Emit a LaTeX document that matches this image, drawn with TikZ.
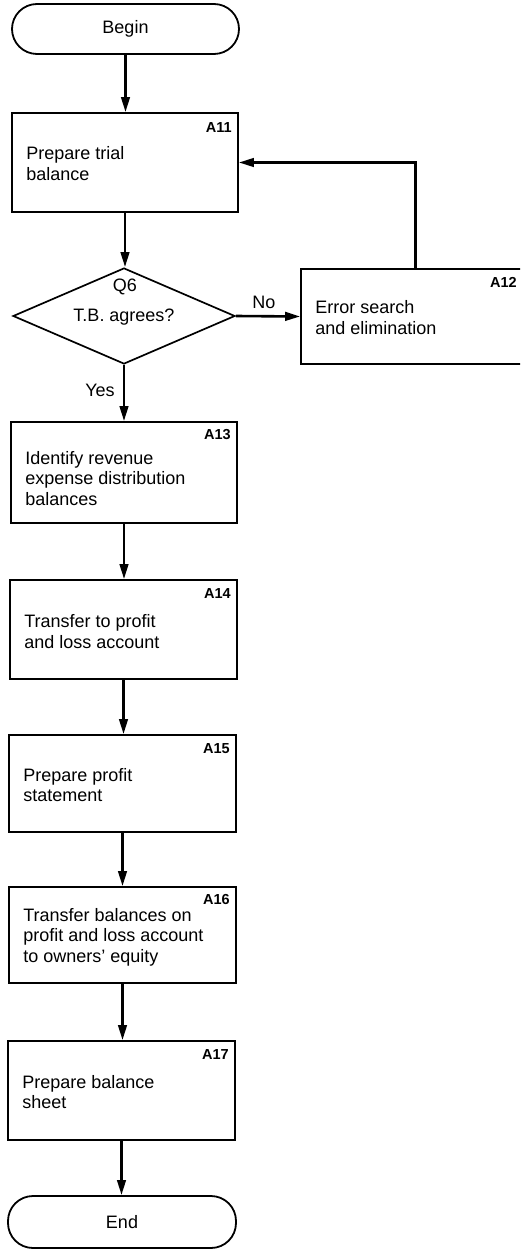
\documentclass[tikz,border=0pt]{standalone}
\usepackage{fontspec}
\setmainfont{Liberation Sans}
\usetikzlibrary{arrows.meta,shapes.geometric,calc}

\tikzset{
  frame/.style={draw=black, line width=1.7pt, rectangle, inner sep=0pt},
  term/.style={draw=black, line width=1.8pt, rectangle, rounded corners=25pt, inner sep=0pt,
    font=\fontsize{18}{20.5}\selectfont},
  decide/.style={draw=black, line width=1.7pt, diamond, inner sep=0pt},
  txt/.style={inner sep=0pt, align=left, anchor=west, font=\fontsize{18}{20.5}\selectfont},
  plain/.style={inner sep=0pt, font=\fontsize{18}{20.5}\selectfont},
  idlab/.style={inner sep=0pt, anchor=north east, font=\fontsize{14.5}{16}\selectfont\bfseries},
  arr/.style={draw=black, line width=2.6pt, -{Triangle[length=15pt,width=8.5pt]}},
}

\begin{document}
\begin{tikzpicture}[x=1pt,y=-1pt]
  \clip (0,0) rectangle (520,1249);

  % terminals
  \node[term, minimum width=227pt, minimum height=50pt] (begin) at (125.5,29) {Begin};
  \node[term, minimum width=228pt, minimum height=52pt] (end) at (122,1222) {End};

  % process boxes
  \node[frame, minimum width=226pt, minimum height=99pt]  (a11) at (125,162.5) {};
  \node[decide, minimum width=222pt, minimum height=96pt] (q6)  at (124,316) {};
  \node[frame, minimum width=223pt, minimum height=95pt]  (a12) at (412.5,316.5) {};
  \node[frame, minimum width=226pt, minimum height=101pt] (a13) at (124,472.5) {};
  \node[frame, minimum width=227pt, minimum height=99pt]  (a14) at (123.5,629.5) {};
  \node[frame, minimum width=227pt, minimum height=97pt]  (a15) at (122.5,783.5) {};
  \node[frame, minimum width=227pt, minimum height=96pt]  (a16) at (122.5,935) {};
  \node[frame, minimum width=227pt, minimum height=99pt]  (a17) at (121.5,1090.5) {};

  % box texts
  \node[txt] (a11t) at ([xshift=15pt,yshift=-1pt]a11.west) {Prepare trial\\balance};
  \node[txt] (a12t) at ([xshift=15pt,yshift=-1pt]a12.west) {Error search\\and elimination};
  \node[txt] (a13t) at ([xshift=15pt,yshift=-6pt]a13.west) {Identify revenue\\expense distribution\\balances};
  \node[txt] (a14t) at ([xshift=15pt,yshift=-2pt]a14.west) {Transfer to profit\\and loss account};
  \node[txt] (a15t) at ([xshift=15pt,yshift=-1.5pt]a15.west) {Prepare profit\\statement};
  \node[txt] (a16t) at ([xshift=15pt,yshift=-2pt]a16.west) {Transfer balances on\\profit and loss account\\to owners’ equity};
  \node[txt] (a17t) at ([xshift=15pt,yshift=-1.5pt]a17.west) {Prepare balance\\sheet};

  % box identifiers
  \node[idlab] (a11id) at ([xshift=-7pt,yshift=-10pt]a11.north east) {A11};
  \node[idlab] (a12id) at ([xshift=-8pt,yshift=-9pt]a12.north east) {A12};
  \node[idlab] (a13id) at ([xshift=-7pt,yshift=-8pt]a13.north east) {A13};
  \node[idlab] (a14id) at ([xshift=-7pt,yshift=-9pt]a14.north east) {A14};
  \node[idlab] (a15id) at ([xshift=-7pt,yshift=-9pt]a15.north east) {A15};
  \node[idlab] (a16id) at ([xshift=-7pt,yshift=-8pt]a16.north east) {A16};
  \node[idlab] (a17id) at ([xshift=-7pt,yshift=-9pt]a17.north east) {A17};

  % decision texts
  \node[plain] (q6id) at (125,287) {Q6};
  \node[plain] (q6t)  at (124,317) {T.B. agrees?};
  \node[plain] (no)   at (264,302) {No};
  \node[plain] (yes)  at (100,390) {Yes};

  % main flow
  \draw[arr] (begin.south) -- (begin.south |- a11.north);
  \draw[arr] (a11.south) -- (a11.south |- q6.north);
  \draw[arr] (q6.south) -- (q6.south |- a13.north);
  \draw[arr] (q6.east) -- (a12.west);
  \draw[arr] (a13.south) -- (a13.south |- a14.north);
  \draw[arr] (a14.south) -- (a14.south |- a15.north);
  \draw[arr] (a15.south) -- (a15.south |- a16.north);
  \draw[arr] (a16.south) -- (a16.south |- a17.north);
  \draw[arr] (a17.south) -- (a17.south |- end.north);

  % loop back after error correction
  \coordinate (loopx) at (415.5,0);
  \draw[arr] (a12.north -| loopx) |- (a11.east);
\end{tikzpicture}
\end{document}
